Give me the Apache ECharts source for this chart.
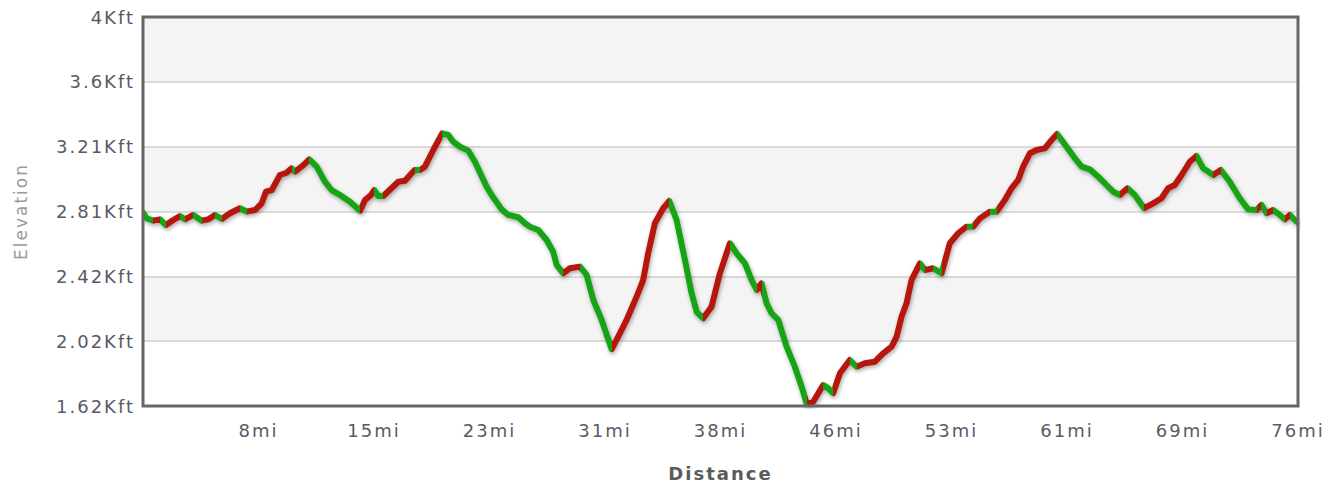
<!DOCTYPE html>
<html>
<head>
<meta charset="utf-8">
<script src="https://cdn.jsdelivr.net/npm/echarts@6/dist/echarts.min.js"></script>
<style>
  html, body { margin: 0; padding: 0; background: #fff; }
  #chart { width: 1338px; height: 491px; }
  #chart text { letter-spacing: 2px; }
</style>
</head>
<body>
<div id="chart"></div>
<script>
// Distance along the route (miles)
const miles = [
  0, 0.24, 0.68, 1.12, 1.51, 1.99, 2.43, 2.76, 3.31, 3.86, 4.30, 4.74, 5.18, 5.72, 6.38, 6.82,
  7.37, 7.81, 8.09, 8.47, 9.01, 9.45, 9.78, 10.0, 10.55, 10.94, 11.43, 11.97, 12.41, 12.96,
  13.62, 14.28, 14.61, 15.0, 15.22, 15.48, 15.81, 16.80, 17.24, 17.57, 17.89, 18.22, 18.55,
  19.10, 19.69, 20.09, 20.41, 20.86, 21.40, 21.84, 22.61, 22.94, 23.60, 24.03, 24.69, 25.13,
  25.46, 26.01, 26.56, 26.99, 27.22, 27.65, 28.09, 28.75, 29.19, 29.63, 30.18, 30.84, 31.27,
  31.82, 32.48, 32.91, 33.24, 33.68, 34.23, 34.63, 35.11, 35.66, 36.10, 36.43, 36.86, 37.41,
  37.96, 38.62, 39.06, 39.61, 40.05, 40.38, 40.70, 41.03, 41.36, 41.80, 42.35, 42.89, 43.34,
  43.66, 44.10, 44.76, 45.09, 45.41, 45.86, 46.51, 46.95, 47.50, 48.16, 48.70, 49.26, 49.59,
  49.91, 50.24, 50.57, 51.12, 51.45, 51.99, 52.55, 53.09, 53.64, 54.19, 54.63, 55.07, 55.72,
  56.16, 56.71, 57.15, 57.59, 57.91, 58.36, 58.80, 59.34, 59.78, 60.15, 60.77, 61.32, 61.76,
  62.30, 62.85, 63.40, 63.84, 64.28, 64.78, 65.26, 65.88, 66.47, 67.02, 67.45, 67.89, 68.34,
  68.88, 69.32, 69.76, 70.42, 70.92, 71.51, 72.17, 72.72, 73.27, 73.60, 73.93, 74.36, 74.80,
  75.13, 75.46, 75.79, 76.0
];
// Elevation (feet)
const elevationFt = [
  2804, 2769, 2755, 2763, 2728, 2759, 2783, 2763, 2790, 2755, 2763, 2790, 2765, 2800, 2831, 2810,
  2820, 2861, 2932, 2942, 3034, 3048, 3075, 3054, 3095, 3130, 3085, 2993, 2942, 2912,
  2871, 2816, 2881, 2912, 2942, 2906, 2906, 2993, 2999, 3034, 3065, 3065, 3085,
  3187, 3289, 3279, 3238, 3207, 3183, 3115, 2963, 2912, 2824, 2790, 2776, 2739,
  2718, 2698, 2637, 2565, 2484, 2433, 2464, 2474, 2423, 2270, 2148, 1969, 2046,
  2148, 2290, 2392, 2555, 2739, 2831, 2875, 2759, 2515, 2311, 2198, 2158, 2229,
  2433, 2617, 2555, 2494, 2392, 2331, 2372, 2250, 2189, 2148, 1985, 1862, 1740,
  1639, 1648, 1750, 1730, 1700, 1822, 1903, 1862, 1883, 1893, 1944, 1985, 2046,
  2168, 2250, 2392, 2494, 2453, 2464, 2433, 2617, 2678, 2718, 2718, 2769, 2810,
  2810, 2881, 2953, 3004, 3085, 3167, 3187, 3197, 3248, 3285, 3207, 3136, 3085,
  3069, 3024, 2973, 2932, 2912, 2953, 2912, 2831, 2861, 2892, 2953, 2973, 3034,
  3115, 3150, 3075, 3034, 3065, 2993, 2892, 2824, 2820, 2851, 2800, 2820, 2790,
  2763, 2790, 2759, 2743
];
// Tick labels
const yTickLabels = ['1.62Kft', '2.02Kft', '2.42Kft', '2.81Kft', '3.21Kft', '3.6Kft', '4Kft'];
const xTickLabels = ['', '8mi', '15mi', '23mi', '31mi', '38mi', '46mi', '53mi', '61mi', '69mi', '76mi'];
const elevMin = 1622, elevMax = 4000;
const distMax = 76;

const UP = '#b5170c';
const DOWN = '#18a312';

const seriesData = miles.map((m, i) => [m, elevationFt[i]]);

// colour each stretch by whether it climbs or descends
const pieces = [];
for (let i = 0; i < miles.length - 1; i++) {
  const color = elevationFt[i + 1] > elevationFt[i] ? UP : DOWN;
  const last = pieces[pieces.length - 1];
  if (last && last.color === color) last.lt = miles[i + 1];
  else pieces.push({ gte: miles[i], lt: miles[i + 1], color: color });
}
const lastPiece = pieces[pieces.length - 1];
lastPiece.lte = lastPiece.lt; delete lastPiece.lt;

const labelFont = 'DejaVu Sans';
const chart = echarts.init(document.getElementById('chart'), null, { renderer: 'svg' });
chart.setOption({
  animation: false,
  backgroundColor: '#fff',
  grid: {
    left: 143, right: 40, top: 17, bottom: 85,
    show: true, z: 5, backgroundColor: 'transparent',
    borderColor: '#666', borderWidth: 3
  },
  xAxis: [
    { type: 'value', min: 0, max: distMax, show: false },
    {
      type: 'value', min: 0, max: xTickLabels.length - 1, interval: 1, position: 'bottom',
      axisLine: { show: false }, axisTick: { show: false }, splitLine: { show: false },
      axisLabel: {
        margin: 15, fontSize: 18, color: '#5a5a66', fontFamily: labelFont,
        formatter: v => xTickLabels[Math.round(v)] || ''
      },
      name: 'Distance', nameLocation: 'middle', nameGap: 58,
      nameTextStyle: { fontSize: 18, fontWeight: 'bold', color: '#5a5a5a', fontFamily: labelFont }
    }
  ],
  yAxis: [
    { type: 'value', min: elevMin, max: elevMax, show: false },
    {
      type: 'value', min: 0, max: yTickLabels.length - 1, interval: 1, position: 'left',
      axisLine: { show: false }, axisTick: { show: false },
      splitLine: { show: true, lineStyle: { color: '#cfcfcf', width: 1.5 } },
      splitArea: { show: true, areaStyle: { color: ['#ffffff', '#f4f4f4'] } },
      axisLabel: {
        margin: 8, fontSize: 18, color: '#5a5a66', fontFamily: labelFont,
        formatter: v => yTickLabels[Math.round(v)] || ''
      },
      name: 'Elevation', nameLocation: 'middle', nameGap: 114, nameRotate: 90,
      nameTextStyle: { fontSize: 17, color: '#9a9a9a', fontFamily: labelFont }
    }
  ],
  visualMap: {
    show: false, type: 'piecewise', dimension: 0, seriesIndex: 0,
    pieces: pieces
  },
  series: [{
    type: 'line',
    xAxisIndex: 0, yAxisIndex: 0,
    data: seriesData,
    showSymbol: false,
    symbol: 'none',
    z: 3,
    lineStyle: {
      width: 6, cap: 'round', join: 'round',
      shadowBlur: 4, shadowColor: 'rgba(0,0,0,0.35)', shadowOffsetX: 1, shadowOffsetY: 2
    }
  }]
});
</script>
</body>
</html>
